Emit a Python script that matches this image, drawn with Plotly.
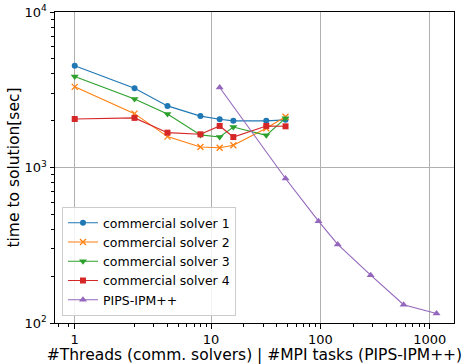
import plotly.graph_objects as go

# Thread counts for the commercial solvers; the single-thread run sits on the tick labelled "1"
threads = [0.568, 2, 4, 8, 12, 16, 32, 48]
solver1 = [4510, 3230, 2490, 2140, 2045, 1995, 1995, 2025]
solver2 = [3300, 2220, 1580, 1355, 1340, 1390, 1790, 2120]
solver3 = [3850, 2760, 2210, 1620, 1570, 1820, 1610, 2075]
solver4 = [2050, 2085, 1675, 1635, 1850, 1570, 1850, 1840]

# MPI task counts and run times for PIPS-IPM++
mpi_tasks = [12, 48, 96, 144, 288, 576, 1152]
pips = [3270, 850, 452, 320, 203, 131, 115]

x_tickvals = [0.568, 10, 100, 1000]
x_ticktext = ["1", "10", "100", "1000"]
y_tickvals = [100, 1000, 10000]
y_ticktext = ["10<sup>2</sup>", "10<sup>3</sup>", "10<sup>4</sup>"]

x_minor = [0.4, 0.5] + [d * 10 ** k for k in range(0, 3) for d in range(2, 10)]
y_minor = [d * 10 ** k for k in range(2, 4) for d in range(2, 10)]

FONT = "DejaVu Sans"

series = [
    ("commercial solver 1", threads, solver1, "#1f77b4", "circle", 6),
    ("commercial solver 2", threads, solver2, "#ff7f0e", "x-thin", 6),
    ("commercial solver 3", threads, solver3, "#2ca02c", "triangle-down", 7),
    ("commercial solver 4", threads, solver4, "#d62728", "square", 6),
    ("PIPS-IPM++", mpi_tasks, pips, "#9467bd", "triangle-up", 7),
]

fig = go.Figure()
for name, xs, ys, color, symbol, size in series:
    marker = dict(color=color, symbol=symbol, size=size)
    if symbol == "x-thin":
        marker["line"] = dict(color=color, width=1.3)
    fig.add_trace(go.Scatter(
        x=xs, y=ys, name=name, mode="lines+markers",
        line=dict(color=color, width=1.1),
        marker=marker,
    ))

axis_common = dict(
    showline=True, linecolor="black", linewidth=1, mirror=True,
    ticks="outside", ticklen=4.5, tickwidth=1, tickcolor="black",
    showgrid=True, gridcolor="#b0b0b0", gridwidth=1,
    zeroline=False,
    tickfont=dict(family=FONT, size=13, color="black"),
    title_font=dict(family=FONT, size=15.5, color="black"),
)

fig.update_xaxes(
    type="log", range=[-0.426, 3.221],
    tickmode="array", tickvals=x_tickvals, ticktext=x_ticktext,
    minor=dict(tickmode="array", tickvals=x_minor, ticks="outside",
               ticklen=2.6, tickcolor="black", tickwidth=0.8, showgrid=False),
    title_text="#Threads (comm. solvers) | #MPI tasks (PIPS-IPM++)",
    title_standoff=3,
    **axis_common,
)
fig.update_yaxes(
    type="log", range=[2, 4],
    tickmode="array", tickvals=y_tickvals, ticktext=y_ticktext,
    minor=dict(tickmode="array", tickvals=y_minor, ticks="outside",
               ticklen=2.6, tickcolor="black", tickwidth=0.8, showgrid=False),
    title_text="time to solution[sec]",
    title_standoff=1,
    **axis_common,
)

fig.update_layout(
    width=467, height=364,
    margin=dict(l=55, r=13, t=12, b=41, autoexpand=False),
    paper_bgcolor="white", plot_bgcolor="white",
    font=dict(family=FONT, size=13, color="black"),
    legend=dict(
        x=0.0175, y=0.022, xanchor="left", yanchor="bottom",
        bgcolor="rgba(255,255,255,0.85)", bordercolor="#cccccc", borderwidth=1,
        font=dict(family=FONT, size=12.5, color="black"),
        tracegroupgap=0, itemwidth=30,
    ),
)

fig.write_html("out.html")
